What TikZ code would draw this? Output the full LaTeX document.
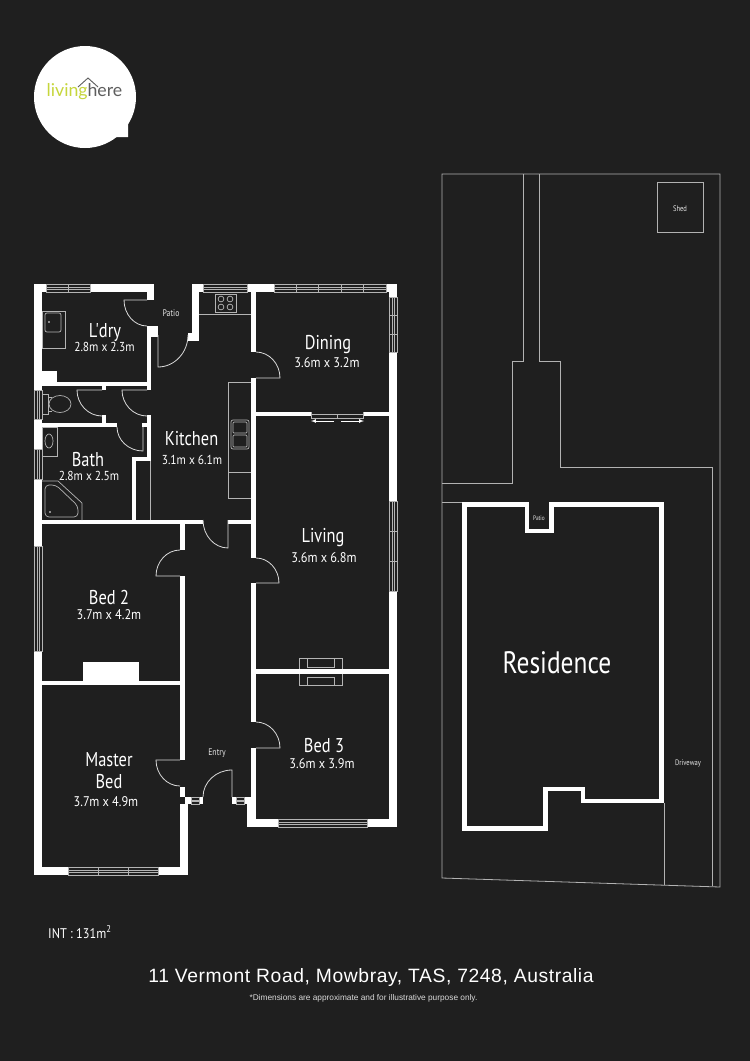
\documentclass[tikz,border=0pt]{standalone}
\usepackage{fontspec}
\setmainfont{PT Sans}
\newfontfamily\roomfont[FakeStretch=0.82]{PT Sans}
\newfontfamily\dimfont[FakeStretch=0.88]{PT Sans}
\newfontfamily\addrfont[LetterSpace=3]{Liberation Sans}
\newfontfamily\notefont{Liberation Sans}
\newfontfamily\logofont{Lato}
\usetikzlibrary{calc}

\definecolor{bgdark}{HTML}{1F1F1F}
\definecolor{thingrey}{HTML}{B4B4B4}
\definecolor{logogreen}{HTML}{C6D63C}
\definecolor{logogrey}{HTML}{5E5E5E}

\tikzset{
  >=latex,
  wall/.style={fill=white},
  fitting/.style={draw=thingrey,line width=0.7pt},
  doorleaf/.style={draw=white!85!black,line width=0.8pt},
  glazing/.style={draw=thingrey,line width=0.7pt,fill=bgdark},
  siteline/.style={draw=white!70!black,line width=0.8pt},
  house/.style={draw=white,line width=4.6pt,line join=miter},
  room/.style={text=white,font=\roomfont\fontsize{20}{21}\selectfont,align=center,inner sep=0pt},
  dims/.style={text=white,font=\dimfont\fontsize{14}{15}\selectfont,inner sep=0pt},
  smalldims/.style={text=white,font=\dimfont\fontsize{13}{14}\selectfont,inner sep=0pt},
  tiny/.style={text=white!90!black,font=\roomfont\fontsize{9.5}{10}\selectfont,inner sep=0pt}
}

% horizontal and vertical window: x1,y1,x2,y2
\newcommand{\hwin}[4]{
  \draw[glazing] (#1,#2) rectangle (#3,#4);
  \draw[thingrey,line width=0.6pt] (#1,{#2+2.9}) -- (#3,{#2+2.9}) (#1,{#4-2.9}) -- (#3,{#4-2.9});
}
\newcommand{\vwin}[4]{
  \draw[glazing] (#1,#2) rectangle (#3,#4);
  \draw[thingrey,line width=0.6pt] ({#1+2.9},#2) -- ({#1+2.9},#4) ({#3-2.9},#2) -- ({#3-2.9},#4);
}

\begin{document}
\begin{tikzpicture}[x=1pt,y=-1pt]

\useasboundingbox (0,0) rectangle (750,1061);
\fill[bgdark] (0,0) rectangle (750,1061);

% logo
\fill[white] (85,97) circle (51);
\fill[white] (100,137) -- (128,137) -- (128,112) -- cycle;
\node[inner sep=0pt,font=\logofont\fontsize{17.7}{19}\selectfont] (logo) at (84.5,92) {\textcolor{logogreen}{living}\textcolor{logogrey}{here}};
\draw[logogrey,line width=0.9pt] (78,87) -- (88,78) -- (98,87);

% walls
\foreach \xa/\ya/\xb/\yb in {
  34/284/154/292, 192/284/203/292, 247/284/397/292,
  34/284/42/875, 34/867/188/875, 180/804/188/875, 180/787/185/797,
  180/685/185/760, 180/576/185/685, 180/524/185/550,
  42/520/203/524, 228/520/251/524, 42/681/180/685, 83/662/139/682,
  42/371/57/382, 42/382/151/386, 42/423/117/427,
  147/292/154/300, 147/326/158/337, 147/337/151/390,
  192/284/199/341, 188/333/199/341,
  102/386/106/390, 102/415/106/423, 142/423/147/427,
  147/415/151/461, 132/457/151/461, 132/457/136/520,
  251/292/256/352, 251/378/256/558, 251/583/256/722, 251/748/256/797,
  247/797/256/827, 247/819/397/827, 389/284/397/827,
  256/412/311/416, 363/412/389/416, 256/669/389/674,
  185/797/203/804, 232/797/247/804}
  \fill[wall] (\xa,\ya) rectangle (\xb,\yb);

% windows
\hwin{46}{284}{90}{292}
\draw[thingrey,line width=0.6pt] (68,284) -- (68,292);
\hwin{203}{284}{247}{292}
\hwin{274}{284}{386}{292}
\foreach \x in {296,318,341,363} \draw[thingrey,line width=0.6pt] (\x,284) -- (\x,292);
\vwin{389}{297}{397}{352}
\foreach \y in {315,334} \draw[thingrey,line width=0.6pt] (389,\y) -- (397,\y);
\vwin{389}{501}{397}{591}
\foreach \y in {531,561} \draw[thingrey,line width=0.6pt] (389,\y) -- (397,\y);
\vwin{34}{390}{42}{419}
\vwin{34}{449}{42}{479}
\vwin{34}{546}{42}{651}
\hwin{68}{867}{158}{875}
\foreach \x in {98,128} \draw[thingrey,line width=0.6pt] (\x,867) -- (\x,875);
\hwin{278}{819}{367}{827}
\hwin{191}{797}{199}{804}
\hwin{236}{797}{244}{804}

% doors
\foreach \hx/\hy/\ax/\ay/\bx/\by in {
  147/300/124/300/147/326,
  158/335/158/367/188/335,
  102/390/77/390/102/416,
  147/390/122/390/147/416,
  143/427/143/451/117/427,
  256/378/280/378/256/352,
  228/520/228/548/203/520,
  180/576/156/576/180/550,
  256/583/279/583/256/558,
  256/748/280/748/256/722,
  180/760/156/760/180/786,
  232/797/232/770/203/797}
  \draw[doorleaf] (\hx,\hy) -- (\ax,\ay)
    .. controls ($(\ax,\ay)+0.55*(\bx,\by)-0.55*(\hx,\hy)$) and ($(\bx,\by)+0.55*(\ax,\ay)-0.55*(\hx,\hy)$) .. (\bx,\by);

% fittings
\draw[fitting] (42,311) rectangle (65,348);
\draw[fitting,rounded corners=2pt] (45,313) rectangle (61,332);
\fill[white] (49,322) circle (0.8);
\draw[fitting] (42,394) rectangle (48,414) (48,397) -- (52,397) (48,411) -- (52,411);
\draw[fitting] (60,404) ellipse (11 and 8.5);
\draw[fitting] (42,427) rectangle (57,456);
\draw[fitting] (49,441) ellipse (4 and 7);
\draw[fitting] (42,481) -- (58,481) -- (82,503) -- (82,520);
\draw[fitting,rounded corners=4pt] (45,485) -- (56,485) -- (78,506) -- (78,517) -- (45,517) -- cycle;
\fill[white] (50,512) circle (0.8);
\draw[fitting] (150,461) -- (150,520);
\draw[fitting] (199,314) -- (251,314);
\draw[fitting] (215,294) rectangle (236,312);
\foreach \cx/\cy in {221/299,230/299,221/307,230/307} \draw[fitting] (\cx,\cy) circle (2.9);
\draw[fitting] (251,382) -- (228,382) -- (228,498) -- (251,498) (228,472) -- (251,472);
\draw[fitting,rounded corners=2pt] (231,420) rectangle (249,449);
\draw[fitting,rounded corners=1pt] (233,422) rectangle (247,433);
\draw[fitting,rounded corners=1pt] (233,435) rectangle (247,447);
\draw[fitting] (299,658) rectangle (342,685);
\draw[fitting] (307,658) -- (307,667) -- (334,667) -- (334,658);
\draw[fitting] (307,685) -- (307,677) -- (334,677) -- (334,685);
\fill[wall] (256,669) rectangle (389,674);

% sliding door
\draw[fitting] (311,412) -- (311,418) -- (363,418) -- (363,412) (337,414) -- (337,418) (311,414) -- (363,414);
\coordinate (slideL) at (334,421);
\coordinate (slideLend) at (311,421);
\coordinate (slideR) at (341,421);
\coordinate (slideRend) at (364,421);
\draw[->,white,line width=0.7pt] (slideL) -- (slideLend);
\draw[->,white,line width=0.7pt] (slideR) -- (slideRend);

% site
\draw[siteline] (442,878) -- (442,174) -- (720,174) -- (720,887) -- cycle;
\draw[siteline] (523,174) -- (523,361) -- (512,361) -- (512,483) -- (442,483);
\draw[siteline] (539,174) -- (539,361) -- (560,361) -- (560,467) -- (712,467) -- (712,886);
\draw[siteline] (442,502) -- (464,502);
\draw[siteline] (664,803) -- (664,885);
\draw[siteline] (657,182) rectangle (703,232);
\draw[house] (464.5,504.5) -- (527,504.5) -- (527,531) -- (551.5,531) -- (551.5,504.5) -- (661.5,504.5) -- (661.5,801)
  -- (583,801) -- (583,789) -- (545.5,789) -- (545.5,828.5) -- (464.5,828.5) -- cycle;

% room labels
\node[room] (ldry) at (105,333) {L'dry};
\node[smalldims] (ldrydim) at (104.5,347) {2.8m x 2.3m};
\node[tiny] (patio) at (171,313) {Patio};
\node[room] (kitchen) at (191.5,439) {Kitchen};
\node[smalldims] (kitchendim) at (192,460) {3.1m x 6.1m};
\node[room] (bath) at (88,460) {Bath};
\node[smalldims] (bathdim) at (89,476) {2.8m x 2.5m};
\node[room] (dining) at (328,345) {Dining};
\node[dims] (diningdim) at (327,363) {3.6m x 3.2m};
\node[room] (living) at (323,538) {Living};
\node[dims] (livingdim) at (324,558) {3.6m x 6.8m};
\node[room] (bedtwo) at (109,597) {Bed 2};
\node[dims] (bedtwodim) at (109,615) {3.7m x 4.2m};
\node[room] (master) at (109,760) {Master};
\node[room] (masterbed) at (109,782) {Bed};
\node[dims] (masterdim) at (106,802) {3.7m x 4.9m};
\node[room] (bedthree) at (324,746) {Bed 3};
\node[dims] (bedthreedim) at (322,764) {3.6m x 3.9m};
\node[tiny] (entry) at (217,753) {Entry};
\node[room,font=\roomfont\fontsize{31}{32}\selectfont] (residence) at (557,663) {Residence};
\node[tiny,font=\roomfont\fontsize{6.5}{7}\selectfont] (patiotwo) at (539,518) {Patio};
\node[tiny,font=\roomfont\fontsize{8}{9}\selectfont] (shed) at (680,208.5) {Shed};
\node[tiny,font=\roomfont\fontsize{8}{9}\selectfont] (driveway) at (688,763.5) {Driveway};

% footer
\node[anchor=west,text=white,inner sep=0pt,font=\dimfont\fontsize{14}{15}\selectfont] (area) at (48,932) {INT : 131m\textsuperscript{2}};
\node[text=white,inner sep=0pt,font=\addrfont\fontsize{19.3}{21}\selectfont] (address) at (371,977) {11 Vermont Road, Mowbray, TAS, 7248, Australia};
\node[text=white!85!black,inner sep=0pt,font=\notefont\fontsize{8.3}{9}\selectfont] (note) at (363.5,998) {*Dimensions are approximate and for illustrative purpose only.};

\end{tikzpicture}
\end{document}
